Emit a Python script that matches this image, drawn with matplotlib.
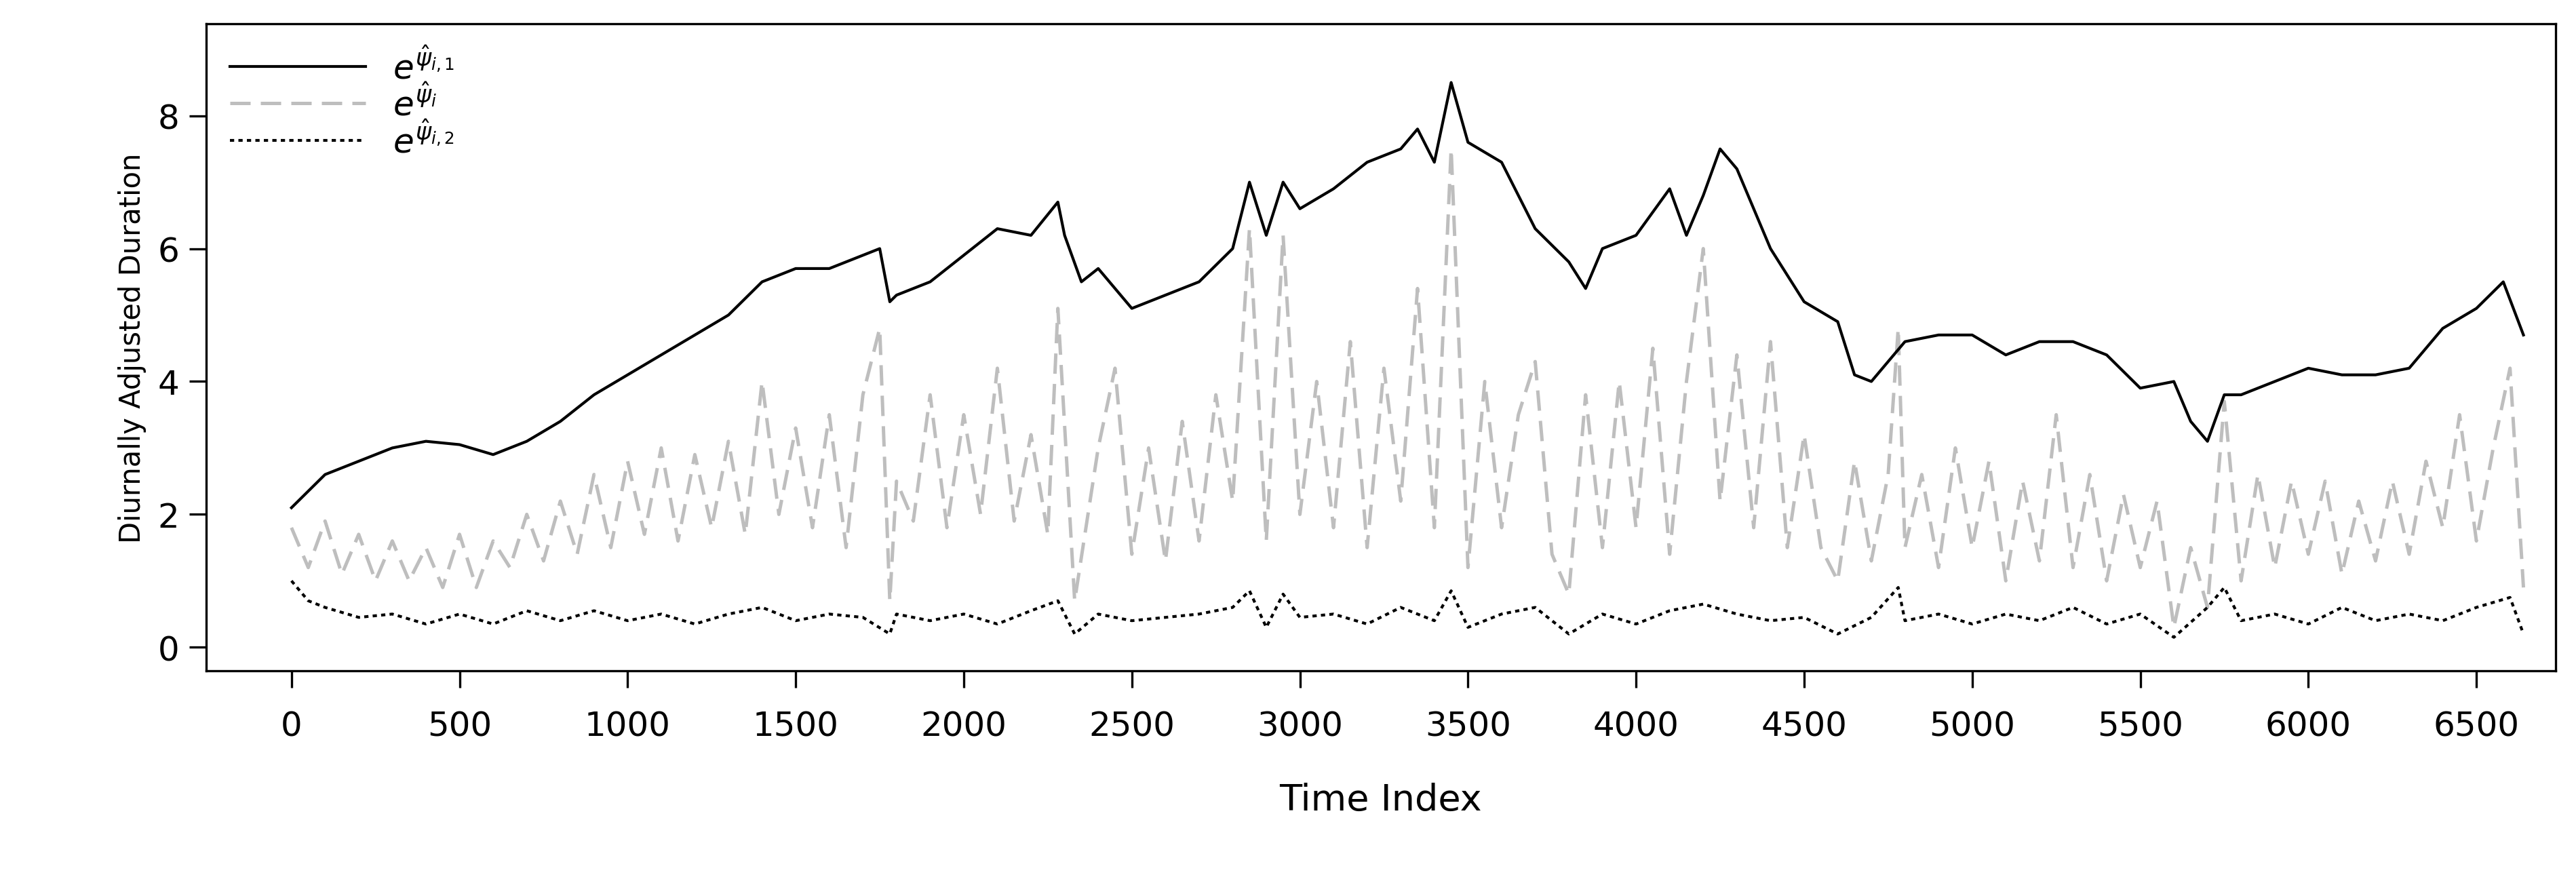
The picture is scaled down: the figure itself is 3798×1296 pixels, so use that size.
import matplotlib
matplotlib.use("Agg")
import matplotlib.pyplot as plt

# upper bound series e^{psi_i,1}
up_idx = [0, 100, 200, 300, 400, 500, 600, 700, 800, 900, 1000, 1100, 1200, 1300, 1400, 1500,
          1600, 1700, 1750, 1780, 1800, 1900, 2000, 2100, 2200, 2280, 2300, 2350, 2400, 2500,
          2600, 2700, 2800, 2850, 2900, 2950, 3000, 3100, 3200, 3300, 3350, 3400, 3450, 3500,
          3600, 3700, 3800, 3850, 3900, 4000, 4100, 4150, 4200, 4250, 4300, 4400, 4500, 4600,
          4650, 4700, 4800, 4900, 5000, 5100, 5200, 5300, 5400, 5500, 5600, 5650, 5700, 5750,
          5800, 5900, 6000, 6100, 6200, 6300, 6400, 6500, 6580, 6640]
up_val = [2.1, 2.6, 2.8, 3.0, 3.1, 3.05, 2.9, 3.1, 3.4, 3.8, 4.1, 4.4, 4.7, 5.0, 5.5, 5.7,
          5.7, 5.9, 6.0, 5.2, 5.3, 5.5, 5.9, 6.3, 6.2, 6.7, 6.2, 5.5, 5.7, 5.1,
          5.3, 5.5, 6.0, 7.0, 6.2, 7.0, 6.6, 6.9, 7.3, 7.5, 7.8, 7.3, 8.5, 7.6,
          7.3, 6.3, 5.8, 5.4, 6.0, 6.2, 6.9, 6.2, 6.8, 7.5, 7.2, 6.0, 5.2, 4.9,
          4.1, 4.0, 4.6, 4.7, 4.7, 4.4, 4.6, 4.6, 4.4, 3.9, 4.0, 3.4, 3.1, 3.8,
          3.8, 4.0, 4.2, 4.1, 4.1, 4.2, 4.8, 5.1, 5.5, 4.7]

# fitted series e^{psi_i}
mid_idx = [0, 50, 100, 150, 200, 250, 300, 350, 400, 450, 500, 550, 600, 650, 700, 750, 800, 850,
           900, 950, 1000, 1050, 1100, 1150, 1200, 1250, 1300, 1350, 1400, 1450, 1500, 1550, 1600,
           1650, 1700, 1750, 1780, 1800, 1850, 1900, 1950, 2000, 2050, 2100, 2150, 2200, 2250, 2280,
           2330, 2400, 2450, 2500, 2550, 2600, 2650, 2700, 2750, 2800, 2850, 2900, 2950, 3000, 3050,
           3100, 3150, 3200, 3250, 3300, 3350, 3400, 3450, 3500, 3550, 3600, 3650, 3700, 3750, 3800,
           3850, 3900, 3950, 4000, 4050, 4100, 4150, 4200, 4250, 4300, 4350, 4400, 4450, 4500, 4550,
           4600, 4650, 4700, 4750, 4780, 4800, 4850, 4900, 4950, 5000, 5050, 5100, 5150, 5200, 5250,
           5300, 5350, 5400, 5450, 5500, 5550, 5600, 5650, 5700, 5750, 5800, 5850, 5900, 5950, 6000,
           6050, 6100, 6150, 6200, 6250, 6300, 6350, 6400, 6450, 6500, 6550, 6600, 6640]
mid_val = [1.8, 1.2, 1.9, 1.1, 1.7, 1.0, 1.6, 1.0, 1.5, 0.9, 1.7, 0.9, 1.6, 1.2, 2.0, 1.3, 2.2, 1.4,
           2.6, 1.5, 2.8, 1.7, 3.0, 1.6, 2.9, 1.8, 3.1, 1.7, 4.0, 2.0, 3.3, 1.8, 3.5,
           1.5, 3.8, 4.8, 0.7, 2.5, 1.9, 3.8, 1.8, 3.5, 2.0, 4.2, 1.9, 3.2, 1.7, 5.1,
           0.7, 3.0, 4.2, 1.4, 3.0, 1.3, 3.4, 1.6, 3.8, 2.2, 6.3, 1.6, 6.2, 2.0, 4.0,
           1.8, 4.6, 1.5, 4.2, 2.2, 5.4, 1.8, 7.5, 1.2, 4.0, 1.8, 3.5, 4.3, 1.4, 0.8,
           3.8, 1.5, 4.0, 1.8, 4.5, 1.4, 4.0, 6.0, 2.2, 4.4, 1.8, 4.6, 1.5, 3.2, 1.5,
           1.0, 2.8, 1.3, 2.6, 4.8, 1.5, 2.6, 1.2, 3.0, 1.5, 2.8, 1.0, 2.5, 1.3, 3.5,
           1.2, 2.6, 1.0, 2.3, 1.2, 2.2, 0.3, 1.5, 0.6, 3.7, 1.0, 2.6, 1.2, 2.5, 1.4,
           2.5, 1.1, 2.2, 1.3, 2.5, 1.4, 2.8, 1.8, 3.5, 1.6, 3.0, 4.2, 0.9]

# lower bound series e^{psi_i,2}
lo_idx = [0, 50, 100, 200, 300, 400, 500, 600, 700, 800, 900, 1000, 1100, 1200, 1300, 1400,
          1500, 1600, 1700, 1780, 1800, 1900, 2000, 2100, 2200, 2280, 2330, 2400, 2500, 2600,
          2700, 2800, 2850, 2900, 2950, 3000, 3100, 3200, 3300, 3400, 3450, 3500, 3600, 3700,
          3800, 3900, 4000, 4100, 4200, 4300, 4400, 4500, 4600, 4700, 4780, 4800, 4900, 5000,
          5100, 5200, 5300, 5400, 5500, 5600, 5700, 5750, 5800, 5900, 6000, 6100, 6200, 6300,
          6400, 6500, 6600, 6640]
lo_val = [1.0, 0.7, 0.6, 0.45, 0.5, 0.35, 0.5, 0.35, 0.55, 0.4, 0.55, 0.4, 0.5, 0.35, 0.5, 0.6,
          0.4, 0.5, 0.45, 0.2, 0.5, 0.4, 0.5, 0.35, 0.55, 0.7, 0.2, 0.5, 0.4, 0.45,
          0.5, 0.6, 0.85, 0.3, 0.8, 0.45, 0.5, 0.35, 0.6, 0.4, 0.85, 0.3, 0.5, 0.6,
          0.2, 0.5, 0.35, 0.55, 0.65, 0.5, 0.4, 0.45, 0.2, 0.45, 0.9, 0.4, 0.5, 0.35,
          0.5, 0.4, 0.6, 0.35, 0.5, 0.15, 0.6, 0.9, 0.4, 0.5, 0.35, 0.6, 0.4, 0.5,
          0.4, 0.6, 0.75, 0.2]

x_ticks = list(range(0, 6501, 500))
y_ticks = [0, 2, 4, 6, 8]

fig = plt.figure(figsize=(12.66, 4.323), dpi=300)
ax = fig.add_axes([0.080, 0.237, 0.912, 0.735])

ax.plot(mid_idx, mid_val, color="#bebebe", lw=1.2, ls=(0, (6, 3)),
        label=r"$e^{\hat{\psi}_i}$")
ax.plot(up_idx, up_val, color="black", lw=1.0, label=r"$e^{\hat{\psi}_{i,1}}$")
ax.plot(lo_idx, lo_val, color="black", lw=1.0, ls=(0, (1.5, 1.5)),
        label=r"$e^{\hat{\psi}_{i,2}}$")

ax.set_xlim(-254, 6735)
ax.set_ylim(-0.35, 9.38)
ax.set_xticks(x_ticks)
ax.set_yticks(y_ticks)
ax.tick_params(labelsize=12, length=6)
ax.tick_params(axis="x", pad=8)
ax.set_xlabel("Time Index", fontsize=13, labelpad=14)
ax.set_ylabel("Diurnally Adjusted Duration", fontsize=10)

h, l = ax.get_legend_handles_labels()
order = [1, 0, 2]
ax.legend([h[i] for i in order], [l[i] for i in order], loc="upper left",
          frameon=False, fontsize=12, handlelength=4, labelspacing=0.0,
          borderaxespad=0.3)

fig.savefig("out.png", dpi=300)
